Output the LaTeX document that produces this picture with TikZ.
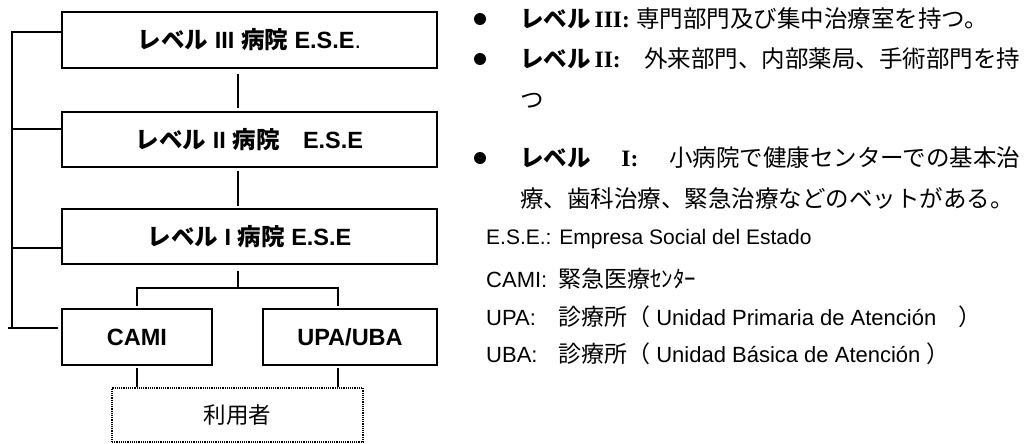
\documentclass[tikz,border=0pt]{standalone}
\usepackage{fontspec}
\setmainfont{Liberation Sans}
\newfontfamily\jp{Noto Sans CJK JP}
\newfontfamily\tms{Liberation Serif}
\newcommand\jpl[1]{{\jp\fontsize{23}{27}\selectfont #1}}
\begin{document}
\begin{tikzpicture}[x=1pt,y=-1pt,
  box/.style={draw, line width=1.2pt, inner sep=0pt, font=\fontsize{23.5}{28}\selectfont\bfseries},
  ln/.style={line width=1.2pt},
  txt/.style={anchor=west, inner sep=0pt, font=\fontsize{23.5}{28}\selectfont},
  low/.style={anchor=west, inner sep=0pt, font=\fontsize{21}{25}\selectfont},
  lowb/.style={anchor=west, inner sep=0pt, font=\fontsize{22}{26}\selectfont},
  dot/.style={circle, fill, inner sep=0pt, minimum size=12pt}]
\useasboundingbox (0,0) rectangle (1030,444);
\fill[white] (0,0) rectangle (1030,444);
% boxes
\node[box, minimum width=375pt, minimum height=56pt] (l3) at (249.5,40) {{\jp レベル} III {\jp 病院} E.S.E\textmd{.}};
\node[box, minimum width=375pt, minimum height=55pt] (l2) at (249.5,139.5) {{\jp レベル} II {\jp 病院}\quad E.S.E};
\node[box, minimum width=375pt, minimum height=55pt] (l1) at (249.5,236.5) {{\jp レベル} I {\jp 病院} E.S.E};
\node[box, minimum width=150pt, minimum height=56pt] (cami) at (137,337) {CAMI};
\node[box, minimum width=174pt, minimum height=56pt] (upa) at (350,337) {UPA/UBA};
\node[box, densely dotted, font=\fontsize{22.5}{27}\selectfont, minimum width=251pt, minimum height=54pt] (users) at (237.5,415) {\jp 利用者};
% vertical chain
\draw[ln] ([xshift=-11.5pt,yshift=-5pt]l3.south) -- ([xshift=-11.5pt,yshift=3pt]l2.north);
\draw[ln] ([xshift=-11.5pt,yshift=-3pt]l2.south) -- ([xshift=-11.5pt,yshift=2pt]l1.north);
\coordinate (j) at (238,288);
\coordinate (uj) at (338,288);
\draw[ln] ([xshift=-11.5pt,yshift=-6pt]l1.south) -- (j);
\draw[ln] ([yshift=2pt]cami.north) -- (cami.north |- j) -- (uj) -- ([yshift=2pt]uj |- upa.north);
\draw[ln] ([yshift=-2pt]cami.south) -- (cami.south |- users.north);
\draw[ln] ([yshift=-2pt]uj |- upa.south) -- (uj |- users.north);
% left bracket
\coordinate (b3) at (12,32);
\coordinate (b2) at (12,129);
\coordinate (b1) at (12,248);
\coordinate (b0) at (12,328);
\draw[ln] (b3 -| l3.west) -- (b3) -- (b0);
\draw[ln] (b2) -- (b2 -| l2.west);
\draw[ln] (b1) -- (b1 -| l1.west);
\draw[ln] ([xshift=-4pt]b0) -- ([xshift=-3pt]b0 -| cami.west);
% right text
\node[dot] (d1) at (480,19) {};
\node[dot] (d2) at (480,59) {};
\node[dot] (d3) at (480,158) {};
\node[txt] (t1) at (520,19) {{\jp\bfseries レベル}\,{\tms\bfseries III:} {\jp 専門部門及び集中治療室を持つ。}};
\node[txt] (t2) at (520,59) {\makebox[500pt][s]{{\jp\bfseries レベル}\,{\tms\bfseries II:} {\jp 外来部門、内部薬局、手術部門を持}}};
\node[txt] (t3) at (520,101) {\jp つ};
\node[txt] (t4) at (520,158) {\makebox[500pt][s]{{\jp\bfseries レベル} {\tms\bfseries I:} {\jp 小病院で健康センターでの基本治}}};
\node[txt] (t5) at (520,199) {\jp 療、歯科治療、緊急治療などのベットがある。};
\node[low] (t6) at (486,239) {E.S.E.: Empresa Social del Estado};
\node[lowb] (t7) at (486,279) {\makebox[72pt][l]{CAMI:}\jpl{緊急医療ｾﾝﾀｰ}};
\node[lowb] (t8) at (486,317) {\makebox[72pt][l]{UPA:}\jpl{診療所（}\ Unidad Primaria de Atención\quad\jpl{）}};
\node[lowb] (t9) at (486,354) {\makebox[72pt][l]{UBA:}\jpl{診療所（}\ Unidad Básica de Atención\ \jpl{）}};
\end{tikzpicture}
\end{document}
